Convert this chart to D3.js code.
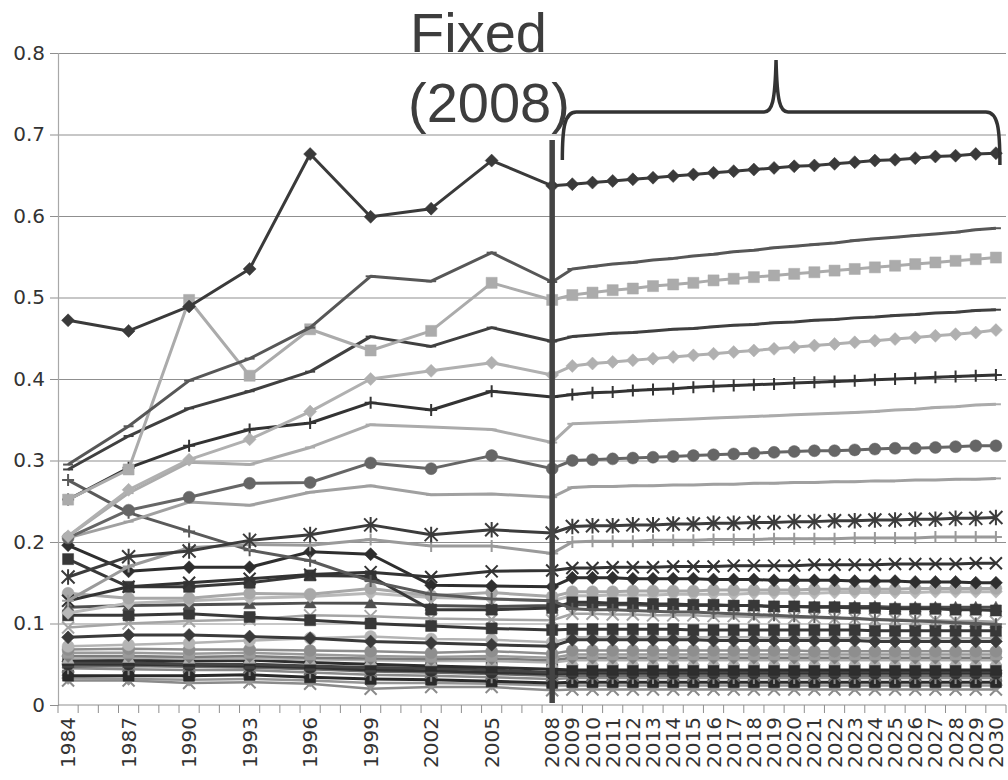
<!DOCTYPE html>
<html>
<head>
<meta charset="utf-8">
<script src="https://cdn.jsdelivr.net/npm/d3@7"></script>
<style>
  body { margin: 0; background: #fff; }
  text { font-family: "Liberation Sans", Arial, sans-serif; }
</style>
</head>
<body>
<svg id="chart" width="1008" height="780"></svg>
<script>
// Every year on the category axis
const axisYears = [1984,1985,1986,1987,1988,1989,1990,1991,1992,1993,1994,1995,1996,1997,1998,1999,
  2000,2001,2002,2003,2004,2005,2006,2007,2008,2009,2010,2011,2012,2013,2014,2015,2016,2017,2018,
  2019,2020,2021,2022,2023,2024,2025,2026,2027,2028,2029,2030];
// Labelled years
const tickYears = [1984,1987,1990,1993,1996,1999,2002,2005,2008,2009,2010,2011,2012,2013,2014,2015,
  2016,2017,2018,2019,2020,2021,2022,2023,2024,2025,2026,2027,2028,2029,2030];
// Years with observations (every third year), then the projection years
const pointYears = [1984,1987,1990,1993,1996,1999,2002,2005,2008,
  2009,2010,2011,2012,2013,2014,2015,2016,2017,2018,2019,2020,2021,2022,2023,2024,2025,2026,2027,2028,2029,2030];
const yTicks = [0,0.1,0.2,0.3,0.4,0.5,0.6,0.7,0.8];

// Series values, one per year in pointYears
const s01 = [0.472,0.459,0.489,0.535,0.676,0.599,0.609,0.668,0.637,
  0.639,0.641,0.643,0.645,0.647,0.649,0.651,0.653,0.655,0.657,0.659,0.661,0.662,0.664,0.666,0.668,0.669,0.671,0.673,0.674,0.676,0.677];
const s02 = [0.295,0.342,0.398,0.425,0.463,0.526,0.520,0.555,0.519,
  0.535,0.538,0.541,0.543,0.546,0.548,0.551,0.553,0.556,0.558,0.561,0.563,0.565,0.567,0.570,0.572,0.574,0.576,0.578,0.580,0.583,0.585];
const s03 = [0.252,0.289,0.497,0.404,0.461,0.435,0.459,0.518,0.497,
  0.503,0.506,0.509,0.511,0.514,0.516,0.518,0.521,0.523,0.525,0.527,0.529,0.531,0.533,0.535,0.537,0.539,0.541,0.543,0.545,0.547,0.549];
const s04 = [0.289,0.330,0.364,0.385,0.409,0.452,0.440,0.463,0.446,
  0.452,0.454,0.456,0.457,0.459,0.461,0.462,0.464,0.466,0.467,0.469,0.470,0.472,0.473,0.475,0.476,0.478,0.479,0.481,0.482,0.484,0.485];
const s05 = [0.207,0.264,0.301,0.326,0.360,0.400,0.410,0.420,0.405,
  0.416,0.419,0.421,0.423,0.425,0.427,0.429,0.431,0.433,0.435,0.437,0.439,0.441,0.443,0.445,0.447,0.449,0.451,0.453,0.455,0.457,0.460];
const s06 = [0.252,0.291,0.318,0.338,0.346,0.371,0.362,0.385,0.378,
  0.381,0.383,0.384,0.386,0.387,0.388,0.390,0.391,0.392,0.393,0.394,0.395,0.396,0.397,0.398,0.399,0.400,0.401,0.402,0.403,0.404,0.405];
const s07 = [0.207,0.260,0.298,0.295,0.316,0.344,0.341,0.338,0.322,
  0.345,0.346,0.347,0.348,0.349,0.350,0.351,0.352,0.353,0.354,0.355,0.356,0.357,0.358,0.359,0.360,0.362,0.363,0.365,0.366,0.368,0.369];
const s08 = [0.205,0.239,0.255,0.272,0.273,0.297,0.290,0.306,0.290,
  0.300,0.301,0.302,0.303,0.304,0.305,0.306,0.307,0.308,0.309,0.310,0.311,0.312,0.312,0.313,0.314,0.315,0.315,0.316,0.317,0.318,0.318];
const s09 = [0.205,0.225,0.249,0.245,0.261,0.269,0.258,0.259,0.255,
  0.267,0.268,0.268,0.269,0.269,0.270,0.270,0.271,0.271,0.272,0.272,0.273,0.273,0.274,0.274,0.275,0.275,0.276,0.276,0.277,0.277,0.278];
const s10 = [0.157,0.182,0.189,0.202,0.209,0.221,0.209,0.215,0.211,
  0.219,0.220,0.220,0.221,0.221,0.222,0.222,0.223,0.223,0.224,0.224,0.225,0.225,0.226,0.226,0.227,0.227,0.228,0.228,0.229,0.229,0.230];
const s11 = [0.128,0.170,0.193,0.197,0.196,0.203,0.195,0.195,0.186,
  0.200,0.201,0.201,0.201,0.202,0.202,0.202,0.203,0.203,0.203,0.204,0.204,0.204,0.204,0.205,0.205,0.205,0.205,0.206,0.206,0.206,0.206];
const s12 = [0.276,0.236,0.213,0.190,0.177,0.152,0.136,0.130,0.128,
  0.118,0.117,0.117,0.116,0.115,0.114,0.114,0.113,0.112,0.111,0.110,0.109,0.108,0.107,0.106,0.105,0.104,0.103,0.102,0.101,0.100,0.099];
const s13 = [0.128,0.145,0.150,0.155,0.160,0.163,0.157,0.164,0.165,
  0.168,0.168,0.169,0.169,0.169,0.170,0.170,0.170,0.171,0.171,0.171,0.171,0.172,0.172,0.172,0.172,0.173,0.173,0.173,0.173,0.174,0.174];
const s14 = [0.196,0.164,0.169,0.169,0.188,0.185,0.147,0.146,0.145,
  0.156,0.156,0.156,0.155,0.155,0.155,0.155,0.154,0.154,0.154,0.153,0.153,0.153,0.153,0.152,0.152,0.152,0.151,0.151,0.151,0.150,0.150];
const s15 = [0.179,0.145,0.145,0.150,0.159,0.158,0.117,0.117,0.119,
  0.126,0.126,0.125,0.125,0.124,0.124,0.123,0.123,0.122,0.122,0.121,0.121,0.120,0.120,0.119,0.119,0.118,0.118,0.118,0.117,0.117,0.116];
const s16 = [0.137,0.131,0.131,0.137,0.136,0.143,0.134,0.138,0.133,
  0.139,0.139,0.139,0.140,0.140,0.140,0.140,0.141,0.141,0.141,0.141,0.141,0.142,0.142,0.142,0.142,0.142,0.143,0.143,0.143,0.143,0.143];
const s17 = [0.113,0.125,0.128,0.131,0.133,0.137,0.132,0.130,0.128,
  0.134,0.134,0.135,0.135,0.135,0.136,0.136,0.136,0.136,0.137,0.137,0.137,0.137,0.138,0.138,0.138,0.138,0.138,0.139,0.139,0.139,0.139];
const s18 = [0.120,0.122,0.123,0.124,0.125,0.125,0.122,0.121,0.122,
  0.123,0.123,0.123,0.123,0.122,0.122,0.122,0.122,0.122,0.122,0.121,0.121,0.121,0.121,0.121,0.121,0.120,0.120,0.120,0.120,0.120,0.120];
const s19 = [0.110,0.110,0.112,0.108,0.104,0.100,0.097,0.094,0.092,
  0.093,0.093,0.093,0.093,0.093,0.093,0.092,0.092,0.092,0.092,0.092,0.092,0.092,0.092,0.092,0.091,0.091,0.091,0.091,0.091,0.091,0.091];
const s20 = [0.095,0.100,0.103,0.105,0.110,0.109,0.106,0.105,0.104,
  0.112,0.112,0.111,0.111,0.110,0.110,0.110,0.109,0.109,0.108,0.108,0.107,0.107,0.106,0.106,0.105,0.105,0.104,0.104,0.103,0.103,0.102];
const s21 = [0.083,0.086,0.086,0.084,0.082,0.078,0.076,0.074,0.072,
  0.080,0.080,0.080,0.080,0.080,0.080,0.080,0.079,0.079,0.079,0.079,0.079,0.079,0.079,0.079,0.078,0.078,0.078,0.078,0.078,0.078,0.078];
const s22 = [0.072,0.074,0.076,0.079,0.082,0.084,0.081,0.080,0.077,
  0.083,0.083,0.083,0.083,0.083,0.083,0.083,0.083,0.083,0.083,0.082,0.082,0.082,0.082,0.082,0.082,0.082,0.082,0.082,0.082,0.082,0.082];
const s23 = [0.068,0.069,0.068,0.068,0.067,0.066,0.064,0.066,0.063,
  0.067,0.067,0.067,0.067,0.067,0.067,0.067,0.067,0.067,0.067,0.067,0.067,0.066,0.066,0.066,0.066,0.066,0.066,0.066,0.066,0.066,0.066];
const s24 = [0.064,0.064,0.063,0.064,0.062,0.060,0.059,0.060,0.058,
  0.062,0.062,0.062,0.062,0.062,0.062,0.062,0.062,0.062,0.062,0.062,0.062,0.062,0.062,0.062,0.062,0.062,0.062,0.062,0.062,0.062,0.062];
const s25 = [0.060,0.060,0.059,0.060,0.058,0.057,0.056,0.057,0.055,
  0.058,0.058,0.058,0.058,0.058,0.058,0.058,0.058,0.058,0.058,0.058,0.058,0.058,0.058,0.058,0.058,0.058,0.058,0.058,0.058,0.058,0.058];
const s26 = [0.057,0.058,0.057,0.057,0.056,0.055,0.054,0.054,0.052,
  0.055,0.055,0.055,0.055,0.055,0.055,0.055,0.055,0.055,0.055,0.055,0.055,0.055,0.055,0.055,0.055,0.055,0.055,0.055,0.055,0.055,0.055];
const s27 = [0.055,0.055,0.054,0.055,0.052,0.050,0.048,0.046,0.044,
  0.043,0.043,0.043,0.043,0.043,0.043,0.043,0.043,0.043,0.043,0.043,0.043,0.043,0.043,0.043,0.043,0.043,0.043,0.043,0.043,0.043,0.043];
const s28 = [0.052,0.052,0.050,0.050,0.048,0.046,0.045,0.043,0.040,
  0.041,0.041,0.041,0.041,0.041,0.041,0.041,0.041,0.041,0.041,0.041,0.041,0.041,0.041,0.041,0.041,0.041,0.041,0.041,0.041,0.041,0.041];
const s29 = [0.050,0.050,0.049,0.048,0.046,0.043,0.042,0.040,0.038,
  0.039,0.039,0.039,0.039,0.039,0.039,0.039,0.039,0.039,0.039,0.039,0.039,0.039,0.039,0.039,0.039,0.039,0.039,0.039,0.039,0.039,0.039];
const s30 = [0.047,0.048,0.047,0.046,0.044,0.041,0.040,0.038,0.036,
  0.036,0.036,0.036,0.036,0.036,0.036,0.036,0.036,0.036,0.036,0.036,0.036,0.036,0.036,0.036,0.036,0.036,0.036,0.036,0.036,0.036,0.036];
const s31 = [0.045,0.044,0.043,0.043,0.040,0.037,0.036,0.034,0.032,
  0.033,0.033,0.033,0.033,0.033,0.033,0.033,0.033,0.033,0.033,0.033,0.033,0.033,0.033,0.033,0.033,0.033,0.033,0.033,0.033,0.033,0.033];
const s32 = [0.036,0.036,0.036,0.037,0.034,0.032,0.031,0.029,0.027,
  0.028,0.028,0.028,0.028,0.028,0.028,0.028,0.028,0.028,0.028,0.028,0.028,0.028,0.028,0.028,0.028,0.028,0.028,0.028,0.028,0.028,0.028];
const s33 = [0.033,0.032,0.031,0.032,0.030,0.027,0.027,0.026,0.024,
  0.024,0.024,0.024,0.024,0.024,0.024,0.024,0.024,0.024,0.024,0.024,0.024,0.024,0.024,0.024,0.024,0.024,0.024,0.024,0.024,0.024,0.024];
const s34 = [0.030,0.030,0.027,0.028,0.026,0.020,0.022,0.022,0.018,
  0.019,0.019,0.019,0.019,0.019,0.019,0.019,0.019,0.019,0.019,0.019,0.019,0.019,0.019,0.019,0.019,0.019,0.019,0.019,0.019,0.019,0.019];

// Drawing style for each series (drawn bottom-up: later entries on top)
const seriesStyles = [
  { data: s34, marker: "x",        color: "#8a8a8a", width: 2.5 },
  { data: s33, marker: "diamond",  color: "#959595", width: 2.5 },
  { data: s32, marker: "square",   color: "#2a2a2a", width: 3 },
  { data: s31, marker: "plus",     color: "#8a8a8a", width: 2.5 },
  { data: s30, marker: "x",        color: "#6e6e6e", width: 2.5 },
  { data: s29, marker: "circle",   color: "#333333", width: 3 },
  { data: s28, marker: "triangle", color: "#444444", width: 3 },
  { data: s27, marker: "square",   color: "#2e2e2e", width: 3 },
  { data: s26, marker: "triangle", color: "#b0b0b0", width: 2.5 },
  { data: s25, marker: "diamond",  color: "#7c7c7c", width: 2.5 },
  { data: s24, marker: "square",   color: "#9a9a9a", width: 2.5 },
  { data: s23, marker: "circle",   color: "#8e8e8e", width: 2.5 },
  { data: s22, marker: "circle",   color: "#b4b4b4", width: 2.5 },
  { data: s21, marker: "diamond",  color: "#3a3a3a", width: 3 },
  { data: s20, marker: "x",        color: "#a5a5a5", width: 2.5 },
  { data: s19, marker: "square",   color: "#383838", width: 3 },
  { data: s18, marker: "triangle", color: "#505050", width: 3 },
  { data: s17, marker: "diamond",  color: "#b8b8b8", width: 3 },
  { data: s16, marker: "circle",   color: "#a8a8a8", width: 3 },
  { data: s15, marker: "square",   color: "#383838", width: 3 },
  { data: s14, marker: "diamond",  color: "#2e2e2e", width: 3 },
  { data: s13, marker: "x",        color: "#333333", width: 3 },
  { data: s12, marker: "plus",     color: "#5a5a5a", width: 3 },
  { data: s11, marker: "plus",     color: "#9a9a9a", width: 3 },
  { data: s10, marker: "asterisk", color: "#3c3c3c", width: 3 },
  { data: s09, marker: "dash",     color: "#a0a0a0", width: 3 },
  { data: s08, marker: "circle",   color: "#666666", width: 3 },
  { data: s07, marker: "dash",     color: "#ababab", width: 3 },
  { data: s06, marker: "plus",     color: "#333333", width: 3 },
  { data: s05, marker: "diamond",  color: "#b0b0b0", width: 3 },
  { data: s04, marker: "dash",     color: "#404040", width: 3 },
  { data: s03, marker: "square",   color: "#ababab", width: 3 },
  { data: s02, marker: "dash",     color: "#575757", width: 3 },
  { data: s01, marker: "diamond",  color: "#3a3a3a", width: 3 }
];

const svg = d3.select("#chart");
const plotLeft = 58, plotRight = 1006, plotTop = 53, plotBottom = 705;
const axisFont = "'DejaVu Sans', Verdana, sans-serif";

const x = d3.scaleBand().domain(axisYears).range([plotLeft, plotRight]).paddingInner(0).paddingOuter(0);
const cx = yr => x(yr) + x.bandwidth() / 2;
const y = d3.scaleLinear().domain([0, 0.8]).range([plotBottom, plotTop]);

// Horizontal gridlines
svg.append("g")
  .attr("transform", `translate(${plotLeft},0)`)
  .call(d3.axisLeft(y).tickValues(yTicks.slice(1)).tickSize(-(plotRight - plotLeft)).tickFormat(""))
  .call(g => g.select(".domain").remove())
  .call(g => g.selectAll("line").attr("stroke", "#8f8f8f").attr("stroke-width", 1));

// Y axis with outside ticks and labels
const yAxis = svg.append("g")
  .attr("transform", `translate(${plotLeft},0)`)
  .call(d3.axisLeft(y).tickValues(yTicks).tickSize(8).tickPadding(5)
    .tickFormat(d => d === 0 ? "0" : d3.format(".1f")(d)));
yAxis.select(".domain").attr("stroke", "#a8a8a8").attr("stroke-width", 1.2);
yAxis.selectAll("line").attr("stroke", "#8f8f8f");
yAxis.selectAll("text").attr("fill", "#333").style("font-size", "20px")
  .style("font-family", axisFont);

// X axis: line, boundary ticks, rotated year labels
const xg = svg.append("g");
xg.append("line").attr("x1", plotLeft).attr("x2", plotRight).attr("y1", plotBottom).attr("y2", plotBottom)
  .attr("stroke", "#8f8f8f").attr("stroke-width", 1.2);
xg.selectAll("line.tick").data(axisYears.concat(["end"])).join("line")
  .attr("class", "tick")
  .attr("x1", d => d === "end" ? plotRight : x(d))
  .attr("x2", d => d === "end" ? plotRight : x(d))
  .attr("y1", plotBottom).attr("y2", plotBottom + 8)
  .attr("stroke", "#8f8f8f").attr("stroke-width", 1);
xg.selectAll("text.yl").data(tickYears).join("text").attr("class", "yl")
  .attr("transform", d => `translate(${cx(d) + 7},${plotBottom + 12}) rotate(-90)`)
  .attr("text-anchor", "end")
  .attr("fill", "#333")
  .style("font-size", "20px")
  .style("font-family", axisFont)
  .text(d => d);

// Series lines and markers
const line = d3.line().x(d => cx(d.year)).y(d => y(d.v));

function markerPath(type, s) {
  switch (type) {
    case "diamond": return `M0,${-s}L${s},0L0,${s}L${-s},0Z`;
    case "square": { const h = s * 0.85; return `M${-h},${-h}H${h}V${h}H${-h}Z`; }
    case "triangle": return `M0,${-s}L${s},${s * 0.8}L${-s},${s * 0.8}Z`;
    case "circle": return d3.symbol(d3.symbolCircle, Math.PI * s * s)();
    case "x": return `M${-s},${-s}L${s},${s}M${-s},${s}L${s},${-s}`;
    case "plus": return `M${-s},0H${s}M0,${-s}V${s}`;
    case "asterisk": return `M${-s},${-s}L${s},${s}M${-s},${s}L${s},${-s}M0,${-s * 1.2}V${s * 1.2}`;
    case "dash": return `M${-s},0H${s}`;
  }
}
const strokeMarkers = new Set(["x", "plus", "asterisk", "dash"]);
const markerSize = { diamond: 6.5, square: 6.5, triangle: 6, circle: 6, x: 6, plus: 6, asterisk: 6.5, dash: 5 };

const plot = svg.append("g");
seriesStyles.forEach(st => {
  const pts = pointYears.map((yr, i) => ({ year: yr, v: st.data[i] }));
  const g = plot.append("g");
  g.append("path").datum(pts).attr("d", line)
    .attr("fill", "none").attr("stroke", st.color).attr("stroke-width", st.width)
    .attr("stroke-linejoin", "round");
  const isStroke = strokeMarkers.has(st.marker);
  g.selectAll("path.m").data(pts).join("path").attr("class", "m")
    .attr("transform", d => `translate(${cx(d.year)},${y(d.v)})`)
    .attr("d", markerPath(st.marker, markerSize[st.marker]))
    .attr("fill", isStroke ? "none" : st.color)
    .attr("stroke", st.color)
    .attr("stroke-width", isStroke ? 2 : 0.5);
});

// Thick divider at the base year
svg.append("line")
  .attr("x1", cx(2008)).attr("x2", cx(2008))
  .attr("y1", 140).attr("y2", 703)
  .attr("stroke", "#444").attr("stroke-width", 5.5);

// Annotation text
svg.append("text").attr("x", 410).attr("y", 52).attr("fill", "#3d3d3d")
  .style("font-size", "56px").text("Fixed");
svg.append("text").attr("x", 408).attr("y", 122).attr("fill", "#3d3d3d")
  .style("font-size", "56px").text("(2008)");

// Curly brace over the projection period
const bx0 = cx(2009) - 10, bx1 = cx(2030) + 4, bMid = cx(2019) + 2;
svg.append("path")
  .attr("d", `M${bx0},160 C${bx0},128 ${bx0 + 2},112 ${bx0 + 14},112 L${bMid - 12},112 ` +
             `C${bMid - 4},112 ${bMid - 1},102 ${bMid},60 C${bMid + 1},102 ${bMid + 4},112 ${bMid + 12},112 ` +
             `L${bx1 - 14},112 C${bx1 - 2},112 ${bx1},128 ${bx1},165`)
  .attr("fill", "none").attr("stroke", "#333").attr("stroke-width", 3.5);
</script>
</body>
</html>
